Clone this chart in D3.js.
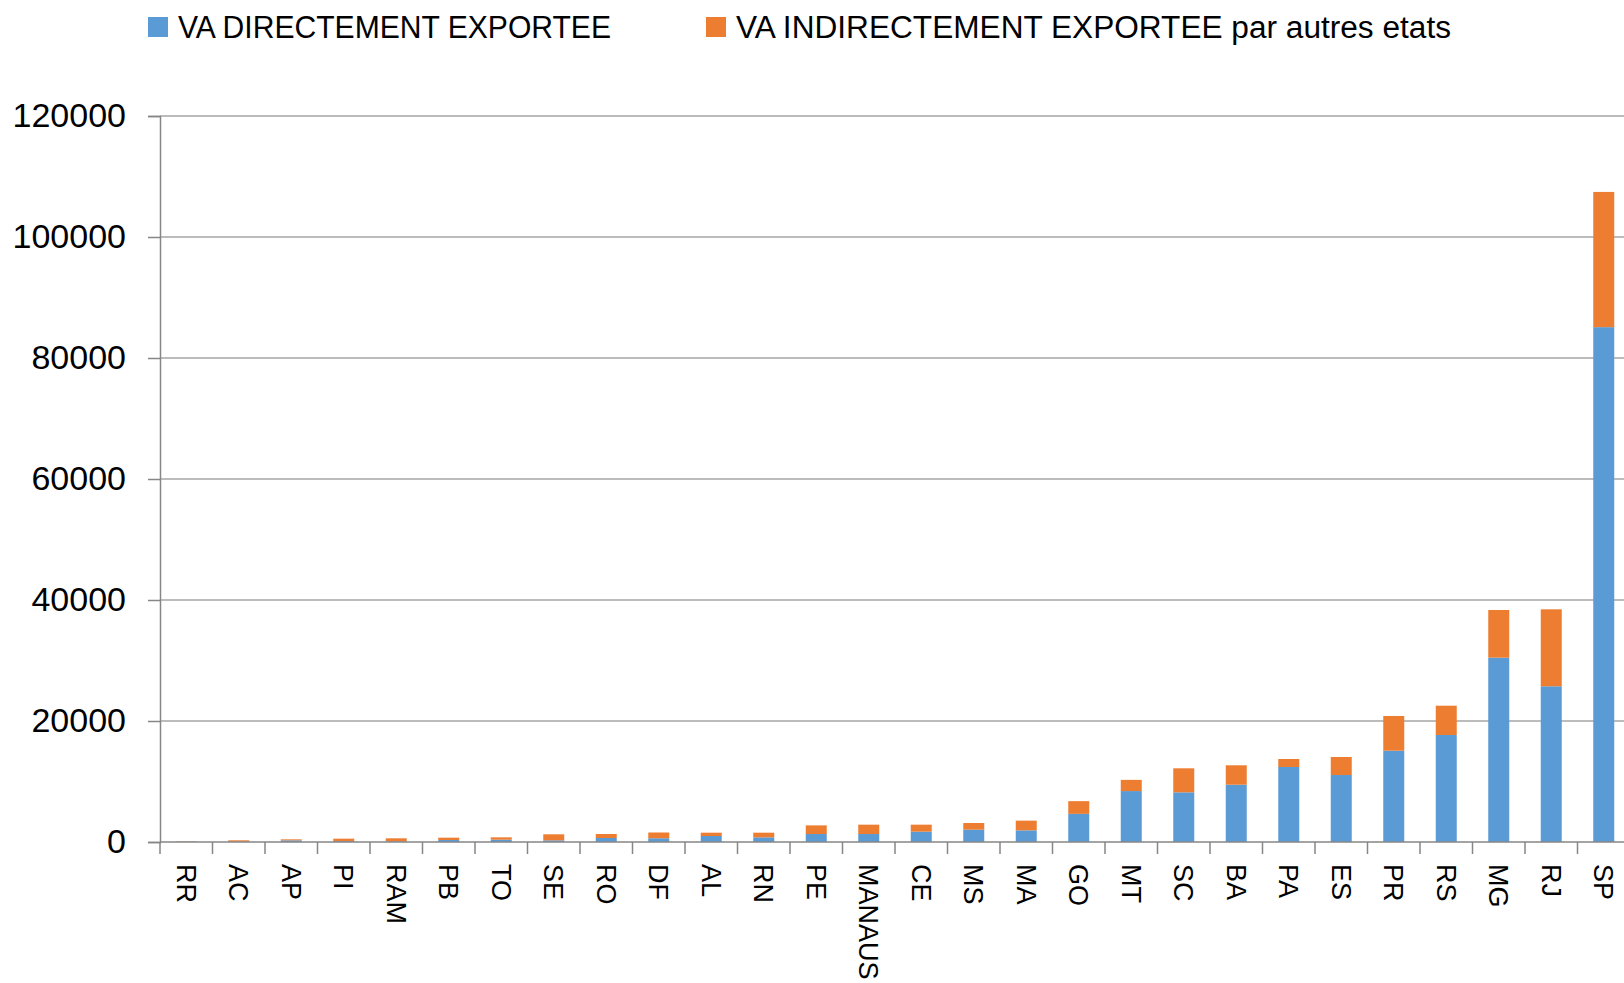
<!DOCTYPE html>
<html lang="fr">

<head>
	<meta charset="UTF-8">
	<title>VA exportee par etat</title>
	<script src="https://cdn.jsdelivr.net/npm/d3@7"></script>
	<style>
		body { margin: 0; background: #fff; }
		text { font-family: 'Liberation Sans', Arial, sans-serif; fill: #000; }
	</style>
</head>

<body>
	<svg id="viz"></svg>

	<script>
		// Data ---
		const states = ['RR', 'AC', 'AP', 'PI', 'RAM', 'PB', 'TO', 'SE', 'RO', 'DF', 'AL', 'RN', 'PE', 'MANAUS',
			'CE', 'MS', 'MA', 'GO', 'MT', 'SC', 'BA', 'PA', 'ES', 'PR', 'RS', 'MG', 'RJ', 'SP'];
		const vaDirect = [30, 50, 275, 150, 100, 330, 385, 275, 660, 620, 990, 770, 1320, 1320,
			1710, 2040, 1930, 4650, 8420, 8210, 9470, 12400, 11070, 15090, 17690, 30470, 25740, 85100];
		const vaIndirect = [60, 230, 165, 400, 510, 385, 385, 995, 660, 950, 550, 770, 1430, 1545,
			1155, 1100, 1600, 2100, 1850, 3970, 3210, 1320, 2980, 5740, 4840, 7880, 12720, 22350];
		const seriesNames = ['VA DIRECTEMENT EXPORTEE', 'VA INDIRECTEMENT EXPORTEE par autres etats'];
		const yTicks = [0, 20000, 40000, 60000, 80000, 100000, 120000];

		// Layout ---
		const svgWidth = 1624, svgHeight = 983;
		const plot = { left: 160, right: 1630, top: 116, bottom: 842 };
		const colors = ['#5B9BD5', '#ED7D31'];

		const svg = d3.select('#viz')
			.attr('width', svgWidth)
			.attr('height', svgHeight);

		const rows = states.map((s, i) => ({ state: s, direct: vaDirect[i], indirect: vaIndirect[i] }));
		const stacked = d3.stack().keys(['direct', 'indirect'])(rows);

		// Scales ---
		const x = d3.scaleBand()
			.domain(states)
			.range([plot.left, plot.right])
			.paddingInner(0.6)
			.paddingOuter(0.3);
		const step = x.step();

		const y = d3.scaleLinear()
			.domain([0, 120000])
			.range([plot.bottom, plot.top]);

		// Gridlines ---
		svg.append('g')
			.selectAll('line')
			.data(yTicks.filter(d => d > 0))
			.join('line')
			.attr('x1', plot.left).attr('x2', plot.right)
			.attr('y1', d => y(d)).attr('y2', d => y(d))
			.attr('stroke', '#a6a6a6')
			.attr('stroke-width', 1.5);

		// Bars ---
		svg.append('g')
			.selectAll('g')
			.data(stacked)
			.join('g')
			.attr('fill', (d, i) => colors[i])
			.selectAll('rect')
			.data(d => d)
			.join('rect')
			.attr('x', d => x(d.data.state))
			.attr('width', x.bandwidth())
			.attr('y', d => y(d[1]))
			.attr('height', d => y(d[0]) - y(d[1]));

		// Y axis ---
		const yAxis = svg.append('g')
			.attr('transform', `translate(${plot.left},0)`)
			.call(d3.axisLeft(y).tickValues(yTicks).tickFormat(d3.format('d')).tickSize(12).tickPadding(22));
		yAxis.select('.domain').attr('stroke', '#868686').attr('stroke-width', 1.5);
		yAxis.selectAll('.tick line').attr('stroke', '#868686').attr('stroke-width', 1.5);
		yAxis.selectAll('.tick text')
			.style('font-size', '34px')
			.style('font-family', "'Liberation Sans', Arial, sans-serif")
			.attr('fill', '#000');

		// X axis ---
		svg.append('line')
			.attr('x1', plot.left).attr('x2', plot.right)
			.attr('y1', plot.bottom).attr('y2', plot.bottom)
			.attr('stroke', '#868686')
			.attr('stroke-width', 1.5);

		svg.append('g')
			.selectAll('line')
			.data(d3.range(states.length + 1))
			.join('line')
			.attr('x1', i => plot.left + i * step)
			.attr('x2', i => plot.left + i * step)
			.attr('y1', plot.bottom)
			.attr('y2', plot.bottom + 12)
			.attr('stroke', '#868686')
			.attr('stroke-width', 1.5);

		svg.append('g')
			.selectAll('text')
			.data(states)
			.join('text')
			.attr('transform', d => `translate(${x(d) + x.bandwidth() / 2},${plot.bottom + 22}) rotate(90)`)
			.attr('dy', '0.35em')
			.attr('text-anchor', 'start')
			.style('font-size', '27px')
			.text(d => d);

		// Legend ---
		const legendPos = [148, 706];
		const legendTextWidth = [433, 715];
		const legend = svg.append('g')
			.selectAll('g')
			.data(seriesNames)
			.join('g')
			.attr('transform', (d, i) => `translate(${legendPos[i]},17)`);
		legend.append('rect')
			.attr('width', 20).attr('height', 20)
			.attr('fill', (d, i) => colors[i]);
		legend.append('text')
			.attr('x', 30)
			.attr('y', 21)
			.attr('textLength', (d, i) => legendTextWidth[i])
			.attr('lengthAdjust', 'spacingAndGlyphs')
			.style('font-size', '31px')
			.text(d => d);
	</script>
</body>

</html>
